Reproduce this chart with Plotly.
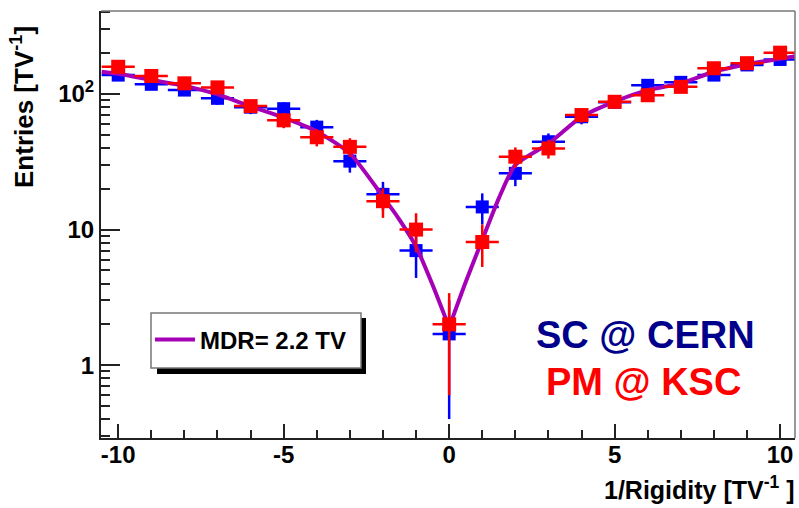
import math
import plotly.graph_objects as go

# ---------------- data ----------------
x_bins = [-10, -9, -8, -7, -6, -5, -4, -3, -2, -1, 0, 1, 2, 3, 4, 5, 6, 7, 8, 9, 10]

sc_cern = [138, 118, 107, 93, 80, 78, 57, 32, 18.2, 7.0, 1.7, 14.7, 26, 44.5, 68, 87, 116, 122, 138, 164, 180]
sc_cern_err = [11.7, 10.9, 10.3, 9.6, 8.9, 8.8, 7.5, 5.7, 4.3, 2.6, 1.3, 3.8, 5.1, 6.7, 8.2, 9.3, 10.8, 11.0, 11.7, 12.8, 13.4]

pm_ksc = [159, 136, 120, 112, 81.5, 64, 48, 40.8, 16.2, 10.0, 2.0, 8.1, 34.5, 39.7, 70, 87.7, 98, 113, 155, 169, 202]
pm_ksc_err = [12.6, 11.7, 11.0, 10.6, 9.0, 8.0, 6.9, 6.4, 4.0, 3.2, 1.4, 2.8, 5.9, 6.3, 8.4, 9.4, 9.9, 10.6, 12.4, 13.0, 14.2]

bin_half_width = [0.5] * len(x_bins)

# fit curve (MDR = 2.2 TV)
fit_x_left = [-10.5, -10, -9, -8, -7, -6, -5, -4, -3, -2, -1.5, -1, -0.5, 0]
fit_y_left = [146, 141, 127, 115, 99.5, 81, 67, 53, 36.5, 17.5, 11.8, 7.5, 3.9, 1.9]
fit_x_right = [0, 0.5, 1, 1.5, 2, 3, 4, 5, 6, 7, 8, 9, 10, 10.5]
fit_y_right = [1.9, 4.1, 8.4, 17, 30, 43, 68, 88, 107, 120, 146, 166, 182, 191]

y_tick_vals = [1, 10, 100]
y_tick_text = ["1", "10", "10<sup>2</sup>"]
x_tick_vals = [-10, -5, 0, 5, 10]
x_tick_text = ["-10", "-5", "0", "5", "10"]

# ---------------- figure ----------------
W, H = 799, 508
L, R, T, B = 101, 4, 11, 70
PW, PH = W - L - R, H - T - B


def px(xp):
    return (xp - L) / PW


def py(yp):
    return 1 - (yp - T) / PH


FONT = "Liberation Sans, Arial, Helvetica, sans-serif"
PURPLE = "#a600b6"

fig = go.Figure()

fig.add_trace(go.Scatter(
    x=x_bins, y=sc_cern, mode="markers", name="SC @ CERN", showlegend=False,
    marker=dict(symbol="square", size=13, color="#0000ff", line=dict(width=0)),
    error_x=dict(type="data", array=bin_half_width, color="#0000ff", thickness=2.5, width=0),
    error_y=dict(type="data", array=sc_cern_err, color="#0000ff", thickness=2.5, width=0),
))

fig.add_trace(go.Scatter(
    x=fit_x_left, y=fit_y_left, mode="lines", name="MDR= 2.2 TV", showlegend=True,
    line=dict(color=PURPLE, width=4, shape="spline", smoothing=0.6),
))
fig.add_trace(go.Scatter(
    x=fit_x_right, y=fit_y_right, mode="lines", name="MDR= 2.2 TV", showlegend=False,
    line=dict(color=PURPLE, width=4, shape="spline", smoothing=0.6),
))

fig.add_trace(go.Scatter(
    x=x_bins, y=pm_ksc, mode="markers", name="PM @ KSC", showlegend=False,
    marker=dict(symbol="square", size=14, color="#ff0000", line=dict(width=0)),
    error_x=dict(type="data", array=bin_half_width, color="#ff0000", thickness=2.5, width=0),
    error_y=dict(type="data", array=pm_ksc_err, color="#ff0000", thickness=2.5, width=0),
))

ymin, ymax = 0.29, 410

fig.update_layout(
    width=W, height=H,
    margin=dict(l=L, r=R, t=T, b=B, pad=0),
    paper_bgcolor="white", plot_bgcolor="white",
    font=dict(family=FONT, size=22, color="black"),
    xaxis=dict(
        range=[-10.52, 10.45], tickvals=x_tick_vals, ticktext=x_tick_text,
        ticks="inside", ticklen=14, tickwidth=1.5,
        tickcolor="#222", showgrid=False, zeroline=False, showline=True, linecolor="#222", linewidth=2,
        tickfont=dict(family=FONT, size=24, weight="bold"), ticklabelstandoff=-6,
        minor=dict(dtick=1, ticks="inside", ticklen=8, tickwidth=1.5, tickcolor="#222", showgrid=False),
    ),
    yaxis=dict(
        type="log", range=[math.log10(ymin), math.log10(ymax)],
        tickvals=y_tick_vals, ticktext=y_tick_text, ticks="inside", ticklen=19, tickwidth=1.5,
        tickcolor="#222", showgrid=False, zeroline=False, showline=True, linecolor="#222", linewidth=2,
        tickfont=dict(family=FONT, size=24, weight="bold"),
        minor=dict(tickvals=[0.3, 0.4, 0.5, 0.6, 0.7, 0.8, 0.9, 2, 3, 4, 5, 6, 7, 8, 9,
                             20, 30, 40, 50, 60, 70, 80, 90, 200, 300, 400],
                   ticks="inside", ticklen=9, tickwidth=1.5, tickcolor="#222", showgrid=False),
    ),
    showlegend=True,
    legend=dict(
        x=px(150), y=py(340), xanchor="left", yanchor="middle",
        bgcolor="rgba(0,0,0,0)", borderwidth=0,
        font=dict(family=FONT, size=24, color="black", weight="bold"),
        itemwidth=40, tracegroupgap=0,
    ),
    shapes=[
        # frame top and right (gray)
        dict(type="line", xref="paper", yref="paper", x0=0, x1=1, y0=1, y1=1,
             line=dict(color="#777", width=1.5)),
        dict(type="line", xref="paper", yref="paper", x0=1, x1=1, y0=0, y1=1,
             line=dict(color="#777", width=1.5)),
        # legend shadow and box
        dict(type="rect", xref="paper", yref="paper", x0=px(157), x1=px(366), y0=py(374), y1=py(318),
             fillcolor="black", line=dict(width=0), layer="above"),
        dict(type="rect", xref="paper", yref="paper", x0=px(151), x1=px(361), y0=py(368), y1=py(313),
             fillcolor="white", line=dict(color="#777", width=1.5), layer="above"),
    ],
    annotations=[
        dict(text="<b>SC @ CERN</b>", x=px(645), y=py(335), xref="paper", yref="paper",
             xanchor="center", yanchor="middle", showarrow=False,
             font=dict(family=FONT, size=38, color="#00008b")),
        dict(text="<b>PM @ KSC</b>", x=px(643), y=py(382), xref="paper", yref="paper",
             xanchor="center", yanchor="middle", showarrow=False,
             font=dict(family=FONT, size=38, color="#ff0000")),
        dict(text="<b>Entries [TV<sup>-1</sup>]</b>", x=px(22), y=py(24), xref="paper", yref="paper",
             xanchor="center", yanchor="top", textangle=-90, showarrow=False,
             font=dict(family=FONT, size=26, color="black")),
        dict(text="<b>1/Rigidity [TV<sup>-1</sup> ]</b>", x=px(797), y=py(506), xref="paper", yref="paper",
             xanchor="right", yanchor="bottom", showarrow=False,
             font=dict(family=FONT, size=25, color="black")),
    ],
)

fig.write_html("out.html")
